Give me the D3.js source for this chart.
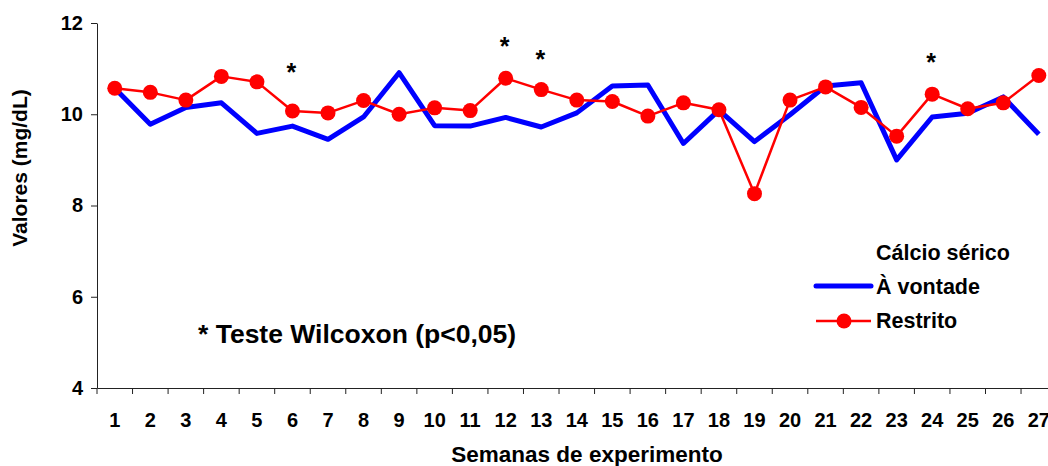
<!DOCTYPE html>
<html>
<head>
<meta charset="utf-8">
<script src="https://cdn.jsdelivr.net/npm/d3@7"></script>
<style>
  body { margin: 0; background: #fff; }
  svg { display: block; font-family: "Liberation Sans", Arial, sans-serif; font-weight: bold; }
</style>
</head>
<body>
<svg id="chart" width="1048" height="466"></svg>
<script>
// semanas 1..27
const weeks = d3.range(1, 28);
const aVontade = [10.57, 9.78, 10.15, 10.25, 9.58, 9.74, 9.45, 9.94, 10.91, 9.75,
  9.74, 9.93, 9.72, 10.03, 10.62, 10.64, 9.36, 10.09, 9.40, 9.99,
  10.62, 10.69, 9.00, 9.94, 10.02, 10.38, 9.56];
const restrito = [10.57, 10.48, 10.31, 10.83, 10.71, 10.07, 10.03, 10.30, 10.00, 10.14,
  10.08, 10.79, 10.54, 10.31, 10.28, 9.96, 10.25, 10.10, 8.26, 10.31,
  10.60, 10.15, 9.52, 10.44, 10.12, 10.25, 10.85];
const sigWeeks = [6, 12, 13, 24];
const sigLevel = [11.04, 11.61, 11.31, 11.26];
const yTicks = [4, 6, 8, 10, 12];

const svg = d3.select("#chart");
const mLeft = 97, mTop = 23, mBottom = 388, band = 35.54;

let x = d3.scaleBand().domain(weeks).range([mLeft, mLeft + band * weeks.length]);
let y = d3.scaleLinear().domain([4, 12]).range([mBottom, mTop]);

// eixo y
let yAxis = svg.append("g")
  .attr("transform", `translate(${mLeft},0)`)
  .call(d3.axisLeft(y).tickValues(yTicks).tickSize(6).tickSizeOuter(0).tickPadding(8));
yAxis.selectAll("text").style("font-size", "20px").attr("fill", "#000");
yAxis.selectAll("line, path").attr("stroke", "#222");

// eixo x: rótulos no centro, marcas nas divisões
let xAxis = svg.append("g")
  .attr("transform", `translate(0,${mBottom})`)
  .call(d3.axisBottom(x).tickSize(0).tickPadding(25));
xAxis.selectAll("text").style("font-size", "20px").attr("fill", "#000");
xAxis.select("path").attr("stroke", "#222");
xAxis.selectAll(".sep").data(weeks).enter().append("line")
  .attr("class", "sep")
  .attr("x1", (d) => x(d)).attr("x2", (d) => x(d))
  .attr("y1", 0).attr("y2", 6)
  .attr("stroke", "#222");

// títulos
svg.append("text")
  .attr("transform", "translate(27,168) rotate(-90)")
  .attr("text-anchor", "middle")
  .style("font-size", "21px")
  .text("Valores (mg/dL)");
svg.append("text")
  .attr("x", 587).attr("y", 462)
  .attr("text-anchor", "middle")
  .style("font-size", "22.5px")
  .text("Semanas de experimento");

let cx = (d) => x(d) + x.bandwidth() / 2;

// séries
let seriesLine = d3.line().x((d, i) => cx(weeks[i])).y((d) => y(d));
svg.append("path").datum(aVontade)
  .attr("d", seriesLine)
  .attr("fill", "none").attr("stroke", "#0000ff")
  .attr("stroke-width", 5).attr("stroke-linejoin", "round");

svg.append("path").datum(restrito)
  .attr("d", seriesLine)
  .attr("fill", "none").attr("stroke", "#ff0000")
  .attr("stroke-width", 2.5).attr("stroke-linejoin", "round");
svg.selectAll(".pt").data(restrito).enter().append("circle")
  .attr("class", "pt")
  .attr("cx", (d, i) => cx(weeks[i]))
  .attr("cy", (d) => y(d))
  .attr("r", 7.5)
  .attr("fill", "#ff0000");

// asteriscos
svg.selectAll(".sig").data(sigWeeks).enter().append("text")
  .attr("class", "sig")
  .attr("x", (d) => cx(d) - 1)
  .attr("y", (d, i) => y(sigLevel[i]) + 14)
  .attr("text-anchor", "middle")
  .style("font-size", "25px")
  .text("*");

svg.append("text")
  .attr("x", 198).attr("y", 342.7)
  .style("font-size", "26.5px")
  .text("* Teste Wilcoxon (p<0,05)");

// legenda
let lg = svg.append("g");
lg.append("text").attr("x", 876).attr("y", 260).style("font-size", "21.5px").text("Cálcio sérico");
lg.append("line").attr("x1", 816).attr("x2", 871).attr("y1", 286).attr("y2", 286)
  .attr("stroke", "#0000ff").attr("stroke-width", 5).attr("stroke-linecap", "round");
lg.append("text").attr("x", 876).attr("y", 293.5).style("font-size", "21.5px").text("À vontade");
lg.append("line").attr("x1", 816).attr("x2", 871).attr("y1", 321).attr("y2", 321)
  .attr("stroke", "#ff0000").attr("stroke-width", 2.5);
lg.append("circle").attr("cx", 844).attr("cy", 321).attr("r", 7.5).attr("fill", "#ff0000");
lg.append("text").attr("x", 876).attr("y", 328).style("font-size", "21.5px").text("Restrito");
</script>
</body>
</html>
